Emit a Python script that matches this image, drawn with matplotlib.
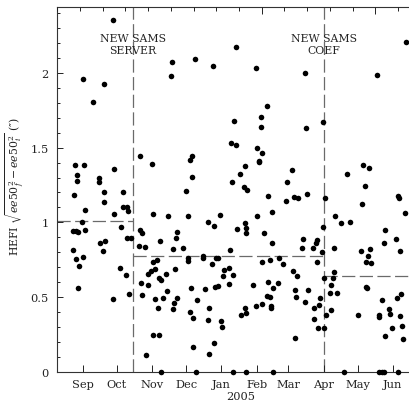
import datetime as dt
import numpy as np
import matplotlib
matplotlib.use("Agg")
import matplotlib.pyplot as plt
import matplotlib.dates as mdates
from matplotlib.ticker import FixedLocator, FuncFormatter, MultipleLocator
import matplotlib.transforms as mtrans

plt.rcParams['font.family'] = ['DejaVu Serif']
plt.rcParams['mathtext.fontset'] = 'dejavuserif'
plt.rcParams['lines.scale_dashes'] = False

# ---- data: days relative to 2005-01-01, HEFI values (arcsec) ----
days_p1 = [-95.6, -121.8, -103.0, -112.7, -128.5, -120.6, -127.3, -126.8, -108.0, -107.7,
           -94.8, -129.7, -103.6, -86.6, -103.6, -86.8, -83.3, -81.9, -120.3, -94.5,
           -122.9, -130.8, -127.9, -126.4, -120.3, -88.6, -83.1, -79.8, -106.8, -102.4,
           -130.8, -104.4, -128.2, -121.8, -125.6, -88.9, -83.7, -125.9, -95.6, -81.0]
vals_p1 = [2.355, 1.962, 1.926, 1.804, 1.381, 1.387, 1.316, 1.278, 1.296, 1.267,
           1.356, 1.182, 1.200, 1.200, 1.138, 1.100, 1.100, 1.073, 1.084, 1.053,
           1.006, 0.940, 0.944, 0.933, 0.946, 0.971, 0.893, 0.895, 0.862, 0.873,
           0.817, 0.810, 0.755, 0.770, 0.710, 0.693, 0.646, 0.559, 0.486, 0.519]

days_p2 = [-43.2, -44.1, -23.2, -71.9, -61.1, -26.1, -27.4, -26.1, -30.9, -60.5,
           -47.2, -71.6, -69.9, -39.3, -40.2, -72.2, -67.0, -53.8, -42.3, -33.5,
           -60.2, -56.9, -58.4, -61.9, -64.8, -49.0, -41.1, -71.0, -64.6, -54.6,
           -52.9, -69.9, -58.2, -48.1, -51.1, -39.3, -56.0, -42.0, -42.8, -59.9,
           -54.9, -66.1, -53.4, -29.7, -29.4, -29.1, -27.0, -27.4, -25.3, -25.3,
           -22.1, -21.7, -16.5, -16.2, -14.2, -12.1, -11.5, -10.9, -10.6, 12.6,
           -7.1, 30.4, 73.6, 39.9, 11.4, 34.6, 34.8, 74.4, 89.4, 8.7,
           12.8, 31.6, 35.5, 32.8, 33.3, 20.8, 16.6, 9.6, 19.6, 22.5,
           41.3, 62.4, 57.7, 75.3, 64.1, 67.1, 56.8, -6.8, -1.2, 13.5,
           21.0, 21.4, 21.4, 31.6, 37.2, 44.8, 44.5, 71.5, 70.6, 80.6,
           83.2, 83.8, 89.4, 88.5, 84.1, -8.0, -5.0, -3.0, 7.6, 2.6,
           6.4, 1.4, 10.5, 6.7, -5.9, -3.0, -0.4, 0.3, -6.2, 9.9,
           21.6, 45.7, 28.1, 36.0, 42.5, 50.4, 54.2, 41.3, 45.1, 49.5,
           40.1, 42.8, 43.4, 43.4, 35.7, 30.4, 20.8, 21.9, 17.5, 63.3,
           66.2, 65.0, 65.4, 75.9, 73.6, 81.5, 85.6, 86.5, 81.7, 84.7,
           64.8]
vals_p2 = [2.071, 1.979, 2.091, 1.441, 1.392, 1.447, 1.418, 1.305, 1.209, 1.053,
           1.044, 0.946, 0.929, 0.933, 0.897, 0.842, 0.835, 0.873, 0.820, 0.828,
           0.737, 0.748, 0.688, 0.673, 0.655, 0.653, 0.686, 0.595, 0.579, 0.626,
           0.613, 0.517, 0.488, 0.539, 0.497, 0.497, 0.428, 0.459, 0.419, 0.249,
           0.249, 0.114, 0.000, 1.044, 0.741, 0.760, 0.559, 0.399, 0.359, 0.167,
           0.000, 0.481, 0.777, 0.762, 0.552, 0.345, 1.000, 0.118, 0.428, 2.173,
           2.044, 2.029, 2.002, 1.781, 1.681, 1.703, 1.641, 1.628, 1.670, 1.532,
           1.518, 1.496, 1.467, 1.401, 1.412, 1.374, 1.323, 1.271, 1.236, 1.220,
           1.174, 1.349, 1.271, 1.189, 1.167, 1.160, 1.144, 0.973, 1.051, 0.955,
           0.993, 0.962, 0.931, 1.040, 0.931, 1.069, 0.862, 0.886, 0.826, 0.826,
           0.860, 0.882, 0.971, 0.800, 0.733, 0.721, 0.760, 0.760, 0.817, 0.681,
           0.693, 0.639, 0.648, 0.588, 0.568, 0.577, 0.341, 0.301, 0.194, 0.000,
           0.000, 0.000, 0.583, 0.737, 0.748, 0.760, 0.723, 0.601, 0.561, 0.595,
           0.510, 0.499, 0.439, 0.428, 0.452, 0.441, 0.425, 0.396, 0.379, 0.675,
           0.639, 0.550, 0.503, 0.546, 0.470, 0.428, 0.448, 0.497, 0.352, 0.296,
           0.225]

days_p3 = [90.5, 90.0, 98.2, 99.3, 96.4, 95.5, 101.4, 96.4, 91.9, 91.1,
           100.2, 105.2, 113.4, 99.1, 110.2, 124.8, 130.1, 126.1, 124.0, 162.2,
           136.9, 155.5, 156.5, 107.9, 119.9, 122.8, 131.0, 128.7, 127.0, 131.9,
           127.0, 128.1, 144.2, 143.1, 153.9, 157.1, 161.3, 141.0, 138.7, 138.4,
           147.2, 148.1, 154.2, 158.0, 144.2, 149.8, 157.1, 158.9, 160.0, 139.0,
           141.0, 143.0, 155.4]
vals_p3 = [0.296, 0.630, 0.630, 0.668, 0.581, 0.526, 0.528, 0.412, 0.383, 1.162,
           1.044, 0.993, 1.000, 0.826, 1.323, 1.383, 1.367, 1.242, 1.120, 2.209,
           1.986, 1.178, 1.165, 0.000, 0.383, 0.806, 0.822, 0.777, 0.737, 0.726,
           0.570, 0.563, 0.951, 0.860, 0.888, 0.808, 1.064, 0.481, 0.383, 0.367,
           0.419, 0.387, 0.497, 0.519, 0.240, 0.296, 0.372, 0.305, 0.222, 0.000,
           0.000, 0.000, 0.000]

# events and period levels
event_days = [-77.7, 90.0]          # new SAMS server (mid Oct 2004), new SAMS coef (1 Apr 2005)
event_labels = ["NEW SAMS\nSERVER", "NEW SAMS\nCOEF"]
period_levels = [1.011, 0.775, 0.640]

y_ticks = [0, 0.5, 1, 1.5, 2]

# ---- figure ----
base = mdates.date2num(dt.datetime(2005, 1, 1))
xmin, xmax = base - 144.6, base + 165.9

fig = plt.figure(figsize=(4.10, 4.02), dpi=100)
ax = fig.add_axes([57/410, 1 - 373/402, 1 - 57/410, (373 - 8)/402])

line_col = '#6a6a6a'
ev = [base + d for d in event_days]
for x in ev:
    ax.axvline(x, color=line_col, lw=0.9, linestyle=(0, (9.5, 3.2)), zorder=1)
edges = [xmin] + ev + [xmax]
for i, lev in enumerate(period_levels):
    ax.hlines(lev, edges[i], edges[i + 1], color=line_col, lw=0.9,
              linestyle=(0, (9.5, 3.2)), zorder=1)

for d, v in ((days_p1, vals_p1), (days_p2, vals_p2), (days_p3, vals_p3)):
    ax.scatter(base + np.asarray(d), v, s=16, color='black', linewidths=0,
               zorder=3, clip_on=False)

for x, lab in zip(ev, event_labels):
    ax.text(x, 2.19, lab, ha='center', va='center', fontsize=7.8,
            linespacing=1.25, zorder=4, color='#222222')

ax.set_xlim(xmin, xmax)
ax.set_ylim(0, 2.44)

ax.xaxis.set_major_locator(mdates.MonthLocator())
ax.xaxis.set_major_formatter(mdates.DateFormatter('%b'))
ax.yaxis.set_major_locator(FixedLocator(y_ticks))
ax.yaxis.set_minor_locator(MultipleLocator(0.1))
ax.yaxis.set_major_formatter(FuncFormatter(lambda v, p: f'{v:g}'))

ax.tick_params(axis='both', which='both', direction='in', labelsize=8.2,
               colors='#222222', width=0.7)
ax.tick_params(axis='x', which='major', length=5, pad=5, top=False)
ax.tick_params(axis='y', which='major', length=4.5, pad=6, right=False)
ax.tick_params(axis='y', which='minor', length=2.5, right=False)

for s in ('left', 'bottom', 'top'):
    ax.spines[s].set_color('#333333')
    ax.spines[s].set_linewidth(0.8)
ax.spines['right'].set_visible(False)

# top axis: day-count ticks every 20 days, longer every 100
ax2 = ax.twiny()
ax2.set_xlim(xmin, xmax)
top_major = [base + 35.5, base + 135.5]
top_minor = [base + 35.5 + 20 * k for k in range(-9, 7)]
ax2.xaxis.set_major_locator(FixedLocator(top_major))
ax2.xaxis.set_minor_locator(FixedLocator(top_minor))
ax2.tick_params(axis='x', which='both', direction='in', labelbottom=False,
                labeltop=False, bottom=False, color='#222222', width=0.7)
ax2.tick_params(axis='x', which='major', length=5)
ax2.tick_params(axis='x', which='minor', length=3)
for s in ax2.spines.values():
    s.set_visible(False)

ax.set_ylabel(r'HEFI $\sqrt{ee50_f^2 - ee50_i^2}$ (″)', fontsize=7.8,
              color='#222222')
ax.yaxis.set_label_coords(-0.085, 0.51)

trans = mtrans.blended_transform_factory(ax.transData, ax.transAxes)
ax.text(base + 17, -0.066, '2005', transform=trans, ha='center', va='center',
        fontsize=8.2, color='#222222')

fig.savefig('out.png', dpi=100)
